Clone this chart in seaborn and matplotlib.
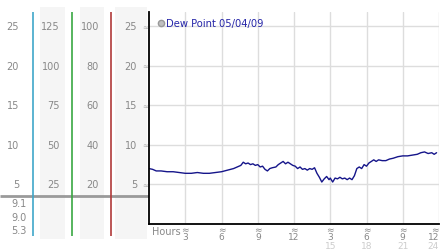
import matplotlib
matplotlib.use("Agg")
import matplotlib.pyplot as plt
import matplotlib.transforms as mtransforms
from matplotlib.lines import Line2D
import seaborn as sns
import pandas as pd

sns.set_theme(style="white")
plt.rcParams['font.family'] = ['DejaVu Sans']

# ---------------- data ----------------
hours = [0.0, 0.3, 0.6, 1.0, 1.5, 2.0, 2.5, 3.0, 3.5, 4.0, 4.5, 5.0, 5.5, 6.0, 6.5,
         7.0, 7.3, 7.6, 7.8, 8.0, 8.2, 8.4, 8.6, 8.8, 9.0, 9.2, 9.4, 9.6, 9.8, 10.0,
         10.2, 10.5, 10.7, 10.9, 11.1, 11.3, 11.5, 11.7, 11.9, 12.1, 12.3, 12.5, 12.7,
         12.9, 13.1, 13.3, 13.5, 13.7, 13.9, 14.1, 14.3, 14.5, 14.7, 14.9, 15.0, 15.2,
         15.4, 15.6, 15.8, 16.0, 16.2, 16.4, 16.6, 16.8, 17.0, 17.2, 17.4, 17.6, 17.8,
         18.0, 18.2, 18.4, 18.6, 18.8, 19.0, 19.3, 19.6, 19.9, 20.2, 20.6, 21.0, 21.4,
         21.8, 22.2, 22.5, 22.8, 23.1, 23.4, 23.6, 23.8]
dew_point = [7.0, 6.9, 6.7, 6.7, 6.6, 6.6, 6.5, 6.4, 6.4, 6.5, 6.4, 6.4, 6.5, 6.6, 6.8,
             7.0, 7.2, 7.4, 7.8, 7.6, 7.7, 7.5, 7.6, 7.4, 7.5, 7.2, 7.3, 6.9, 6.7, 7.0,
             7.1, 7.2, 7.5, 7.7, 7.9, 7.6, 7.8, 7.6, 7.4, 7.3, 7.0, 7.2, 6.9,
             7.0, 6.8, 7.0, 6.9, 7.1, 6.4, 5.9, 5.3, 5.7, 6.0, 5.6, 5.8, 5.3,
             5.8, 5.7, 5.9, 5.7, 5.8, 5.6, 5.8, 5.6, 6.1, 7.0, 7.2, 7.0, 7.5,
             7.3, 7.7, 7.9, 8.1, 7.9, 8.1, 8.0, 8.0, 8.2, 8.3, 8.5, 8.6, 8.6,
             8.7, 8.8, 9.0, 9.1, 8.9, 9.0, 8.8, 9.0]
scale_ticks = [5, 10, 15, 20, 25]
col1_labels = ["5", "10", "15", "20", "25"]
col2_labels = ["25", "50", "75", "100", "125"]
col3_labels = ["20", "40", "60", "80", "100"]
col4_labels = ["5", "10", "15", "20", "25"]
hour_ticks = [3, 6, 9, 12, 15, 18, 21, 24]
hour_labels = ["3", "6", "9", "12", "3", "6", "9", "12"]
hour24_ticks = [15, 18, 21, 24]
hour24_labels = ["15", "18", "21", "24"]
summary_labels = ["9.1", "9.0", "5.3"]
legend_label = "Dew Point 05/04/09"

df = pd.DataFrame({"hour": hours, "dew": dew_point})

# ---------------- layout ----------------
W, H = 442, 253
fig = plt.figure(figsize=(W / 100, H / 100), dpi=100)
fig.patch.set_facecolor("white")
x0, x1 = 149, 439
y_top, y_bot = 13, 225
ppu = (y_bot - 27) / 25.0
ymax = (y_bot - y_top) / ppu
ah = y_bot - y_top


def v(py):
    return (y_bot - py) / ppu


# left scale panels
lax = fig.add_axes([0, 0, x0 / W, 1])
lax.set_xlim(0, x0)
lax.set_ylim(v(H), v(0))
lax.axis("off")
for a, b in [(40, 65), (80, 104), (115, 147)]:
    lax.axvspan(a, b, ymin=(H - 240) / H, ymax=(H - 8) / H, color="#f5f5f5", lw=0, zorder=0)
for xx, c in [(33, "#3fa7c9"), (72, "#3aa843"), (111, "#b03a3a")]:
    lax.vlines(xx, v(237), v(13), color=c, lw=1.2, zorder=2)
lax.hlines(v(197), 0, x0, color="#9a9a9a", lw=2, zorder=1)
for xr, labs in [(19, col1_labels), (60, col2_labels), (99, col3_labels), (137, col4_labels)]:
    for t, lab in zip(scale_ticks, labs):
        lax.text(xr, t, lab, ha="right", va="center", fontsize=7, color="#888888")
for py, lab in zip([204, 218, 231], summary_labels):
    lax.text(27, v(py), lab, ha="right", va="center", fontsize=7, color="#888888")

# main chart
ax = fig.add_axes([x0 / W, (H - y_bot) / H, (x1 - x0) / W, ah / H])
ax.set_facecolor("white")
sns.lineplot(data=df, x="hour", y="dew", ax=ax, color="#15158a", lw=1.0, legend=False)
ax.set_xlim(0, 24)
ax.set_ylim(0, ymax)
ax.set_xlabel("")
ax.set_ylabel("")
ax.grid(True, color="#dddddd", lw=1)
ax.set_axisbelow(True)
for s in ["top", "right"]:
    ax.spines[s].set_visible(False)
for s in ["left", "bottom"]:
    ax.spines[s].set_color("black")
    ax.spines[s].set_linewidth(1.3)
ax.set_yticks(scale_ticks)
ax.set_yticklabels(["\u2248"] * len(scale_ticks), fontsize=5, color="#aaaaaa")
ax.set_xticks(hour_ticks)
ax.set_xticklabels(["\u2248\n" + l for l in hour_labels], fontsize=6.5, color="#888888",
                   linespacing=0.72)
ax.tick_params(length=0, pad=0.5)
lbls = ax.get_xticklabels()
lbls[-1].set_horizontalalignment("right")
lbls[-1].set_x(24)
trans = mtransforms.blended_transform_factory(ax.transData, ax.transAxes)
for t, lab in zip(hour24_ticks, hour24_labels):
    ax.text(t, -22 / ah, lab, transform=trans, ha="right" if t == 24 else "center",
            va="center", fontsize=6.5, color="#cccccc")
ax.text(0.25, -7 / ah, "Hours", transform=trans, ha="left", va="center",
        fontsize=7, color="#888888")

handle = Line2D([], [], marker="o", linestyle="none", markerfacecolor="#c0c0c0",
                markeredgecolor="#999999", markersize=4.5)
leg = ax.legend([handle], [legend_label], loc="upper left", bbox_to_anchor=(0.01, 1.0),
                frameon=False, fontsize=7.2, handlelength=0.6, handletextpad=0.2,
                borderaxespad=0.2, labelcolor="#2525a8")

fig.savefig("out.png", dpi=100, facecolor="white")
